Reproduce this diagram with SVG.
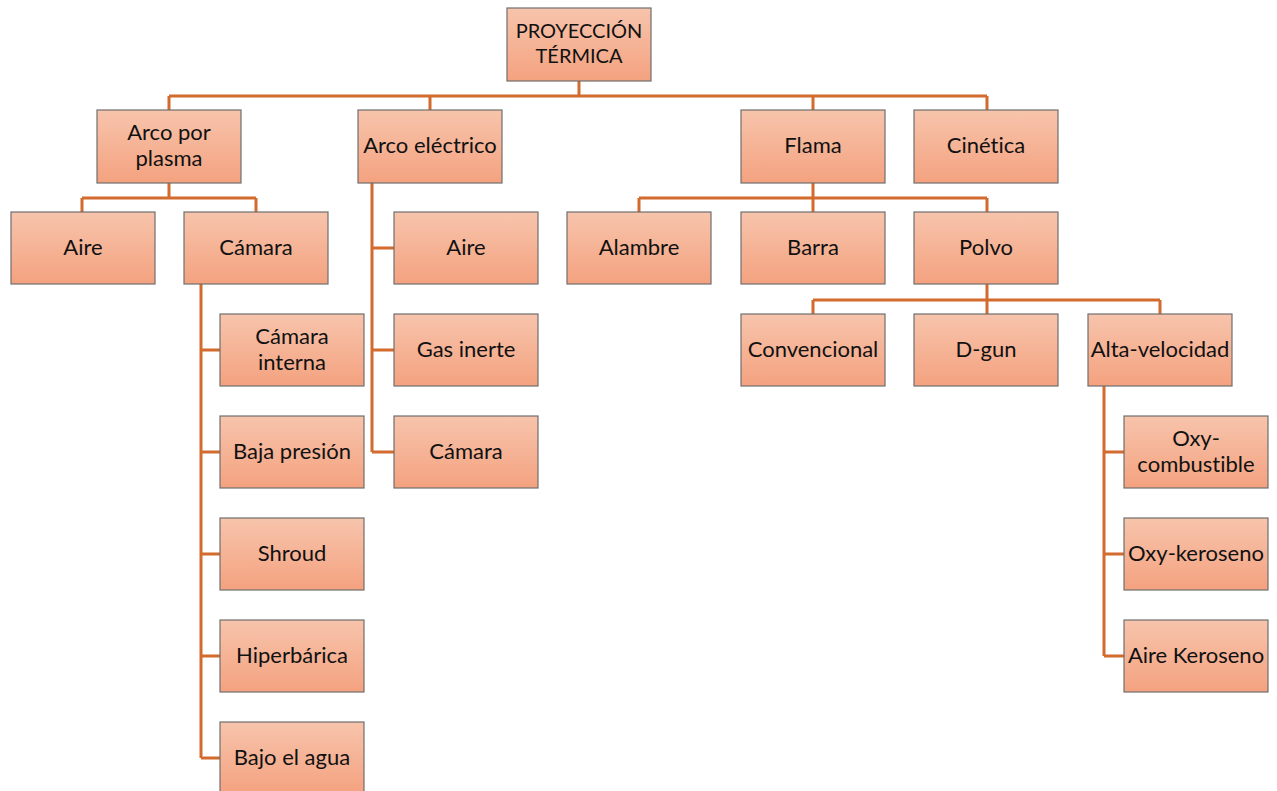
<svg xmlns="http://www.w3.org/2000/svg" width="1277" height="791" viewBox="0 0 1277 791">
<defs>
<linearGradient id="g" x1="0" y1="0" x2="0" y2="1">
<stop offset="0" stop-color="#F7C4AC"/>
<stop offset="1" stop-color="#F4A27F"/>
</linearGradient>
</defs>
<style>
.b{fill:url(#g);stroke:#6F6F6F;stroke-width:1.2}
.t{font-family:Lato,"Liberation Sans",sans-serif;font-size:22px;fill:#111;text-anchor:middle;font-variant-ligatures:none}
.r{font-size:20px}
.c{fill:none;stroke:#D26B2D;stroke-width:3}
</style>
<rect width="1277" height="791" fill="#fff"/>
<g id="connectors">
<path class="c" d="M579 81V96M169 96H987M169 96V110M430 96V110M813 96V110M987 96V110"/>
<path class="c" d="M169 183V198M82 198H256M82 198V212M256 198V212"/>
<path class="c" d="M372 183V452M372 248H394M372 350H394M372 452H394"/>
<path class="c" d="M813 183V198M639 198H987M639 198V212M813 198V212M987 198V212"/>
<path class="c" d="M201 284V758M201 350H220M201 452H220M201 554H220M201 656H220M201 758H220"/>
<path class="c" d="M987 284V300M813 300H1160M813 300V314M987 300V314M1160 300V314"/>
<path class="c" d="M1104 386V656M1104 452H1124M1104 554H1124M1104 656H1124"/>
</g>
<g id="n0"><rect class="b" x="507" y="8" width="144" height="73"/><text class="t r" x="579" y="38">PROYECCIÓN</text><text class="t r" x="579" y="63">TÉRMICA</text></g>
<g id="n1"><rect class="b" x="97" y="110" width="144" height="73"/><text class="t" x="169" y="140">Arco por</text><text class="t" x="169" y="166">plasma</text></g>
<g id="n2"><rect class="b" x="358" y="110" width="144" height="73"/><text class="t" x="430" y="153">Arco eléctrico</text></g>
<g id="n3"><rect class="b" x="741" y="110" width="144" height="73"/><text class="t" x="813" y="153">Flama</text></g>
<g id="n4"><rect class="b" x="914" y="110" width="144" height="73"/><text class="t" x="986" y="153">Cinética</text></g>
<g id="n5"><rect class="b" x="11" y="212" width="144" height="72"/><text class="t" x="83" y="255">Aire</text></g>
<g id="n6"><rect class="b" x="184" y="212" width="144" height="72"/><text class="t" x="256" y="255">Cámara</text></g>
<g id="n7"><rect class="b" x="394" y="212" width="144" height="72"/><text class="t" x="466" y="255">Aire</text></g>
<g id="n8"><rect class="b" x="394" y="314" width="144" height="72"/><text class="t" x="466" y="357">Gas inerte</text></g>
<g id="n9"><rect class="b" x="394" y="416" width="144" height="72"/><text class="t" x="466" y="459">Cámara</text></g>
<g id="n10"><rect class="b" x="567" y="212" width="144" height="72"/><text class="t" x="639" y="255">Alambre</text></g>
<g id="n11"><rect class="b" x="741" y="212" width="144" height="72"/><text class="t" x="813" y="255">Barra</text></g>
<g id="n12"><rect class="b" x="914" y="212" width="144" height="72"/><text class="t" x="986" y="255">Polvo</text></g>
<g id="n13"><rect class="b" x="220" y="314" width="144" height="72"/><text class="t" x="292" y="344">Cámara</text><text class="t" x="292" y="370">interna</text></g>
<g id="n14"><rect class="b" x="220" y="416" width="144" height="72"/><text class="t" x="292" y="459">Baja presión</text></g>
<g id="n15"><rect class="b" x="220" y="518" width="144" height="72"/><text class="t" x="292" y="561">Shroud</text></g>
<g id="n16"><rect class="b" x="220" y="620" width="144" height="72"/><text class="t" x="292" y="663">Hiperbárica</text></g>
<g id="n17"><rect class="b" x="220" y="722" width="144" height="72"/><text class="t" x="292" y="765">Bajo el agua</text></g>
<g id="n18"><rect class="b" x="741" y="314" width="144" height="72"/><text class="t" x="813" y="357">Convencional</text></g>
<g id="n19"><rect class="b" x="914" y="314" width="144" height="72"/><text class="t" x="986" y="357">D-gun</text></g>
<g id="n20"><rect class="b" x="1088" y="314" width="144" height="72"/><text class="t" x="1160" y="357">Alta-velocidad</text></g>
<g id="n21"><rect class="b" x="1124" y="416" width="144" height="72"/><text class="t" x="1196" y="446">Oxy-</text><text class="t" x="1196" y="472">combustible</text></g>
<g id="n22"><rect class="b" x="1124" y="518" width="144" height="72"/><text class="t" x="1196" y="561">Oxy-keroseno</text></g>
<g id="n23"><rect class="b" x="1124" y="620" width="144" height="72"/><text class="t" x="1196" y="663">Aire Keroseno</text></g>
</svg>
